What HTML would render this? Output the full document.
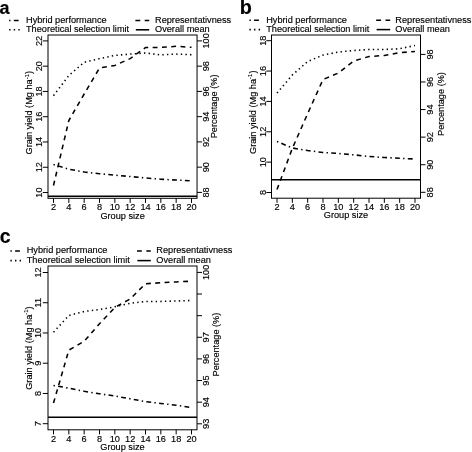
<!DOCTYPE html>
<html><head><meta charset="utf-8"><style>
html,body{margin:0;padding:0;background:#fff;}
svg{display:block;will-change:transform;}
text{stroke:#000;stroke-width:0.15px;}
</style></head><body>
<svg width="472" height="452" viewBox="0 0 472 452" font-family='"Liberation Sans", sans-serif' font-size="9.2" fill="#000">
<rect width="472" height="452" fill="#fff"/>
<text x="-0.5" y="14.2" font-size="18" font-weight="bold">a</text>
<path d="M9.1 20.5H19.2" stroke="#000" stroke-width="1.55" stroke-dasharray="1.4 3.3 4.8 3.3" fill="none"/>
<path d="M9.1 29.8H20.2" stroke="#000" stroke-width="1.55" stroke-dasharray="1.4 3.22" fill="none"/>
<path d="M135.4 20.5H149.2" stroke="#000" stroke-width="1.55" stroke-dasharray="4.85 4.45" fill="none"/>
<path d="M135.8 29.8H149.2" stroke="#000" stroke-width="1.55" fill="none"/>
<text x="26" y="23.2">Hybrid performance</text>
<text x="26" y="32.1">Theoretical selection limit</text>
<text x="155" y="23.2">Representativness</text>
<text x="155" y="32.1">Overall mean</text>
<rect x="48" y="35" width="149.05" height="163.3" fill="none" stroke="#000" stroke-width="1.0"/>
<text x="53.5" y="209.8" text-anchor="middle">2</text>
<text x="68.83" y="209.8" text-anchor="middle">4</text>
<text x="84.17" y="209.8" text-anchor="middle">6</text>
<text x="99.5" y="209.8" text-anchor="middle">8</text>
<text x="114.83" y="209.8" text-anchor="middle">10</text>
<text x="130.17" y="209.8" text-anchor="middle">12</text>
<text x="145.5" y="209.8" text-anchor="middle">14</text>
<text x="160.83" y="209.8" text-anchor="middle">16</text>
<text x="176.17" y="209.8" text-anchor="middle">18</text>
<text x="191.5" y="209.8" text-anchor="middle">20</text>
<text transform="translate(41.8 40.9) rotate(-90)" text-anchor="middle">22</text>
<text transform="translate(41.8 66.17) rotate(-90)" text-anchor="middle">20</text>
<text transform="translate(41.8 91.44) rotate(-90)" text-anchor="middle">18</text>
<text transform="translate(41.8 116.71) rotate(-90)" text-anchor="middle">16</text>
<text transform="translate(41.8 141.98) rotate(-90)" text-anchor="middle">14</text>
<text transform="translate(41.8 167.25) rotate(-90)" text-anchor="middle">12</text>
<text transform="translate(41.8 192.52) rotate(-90)" text-anchor="middle">10</text>
<text transform="translate(209.4 40.9) rotate(-90)" text-anchor="middle">100</text>
<text transform="translate(209.4 66.15) rotate(-90)" text-anchor="middle">98</text>
<text transform="translate(209.4 91.4) rotate(-90)" text-anchor="middle">96</text>
<text transform="translate(209.4 116.65) rotate(-90)" text-anchor="middle">94</text>
<text transform="translate(209.4 141.9) rotate(-90)" text-anchor="middle">92</text>
<text transform="translate(209.4 167.15) rotate(-90)" text-anchor="middle">90</text>
<text transform="translate(209.4 192.4) rotate(-90)" text-anchor="middle">88</text>
<path d="M53.5 198.3V202.9M68.83 198.3V202.9M84.17 198.3V202.9M99.5 198.3V202.9M114.83 198.3V202.9M130.17 198.3V202.9M145.5 198.3V202.9M160.83 198.3V202.9M176.17 198.3V202.9M191.5 198.3V202.9M42.8 40.9H48M42.8 66.17H48M42.8 91.44H48M42.8 116.71H48M42.8 141.98H48M42.8 167.25H48M42.8 192.52H48M197.05 40.9H202.05M197.05 66.15H202.05M197.05 91.4H202.05M197.05 116.65H202.05M197.05 141.9H202.05M197.05 167.15H202.05M197.05 192.4H202.05" stroke="#000" stroke-width="1.0" fill="none"/>
<text x="122.6" y="218.5" text-anchor="middle">Group size</text>
<text transform="translate(32.3 154.4) rotate(-90)">Grain yield (Mg ha<tspan font-size="6" dy="-3.6">-1</tspan><tspan dy="3.6">)</tspan></text>
<text transform="translate(216.5 138.3) rotate(-90)">Percentage (%)</text>
<path d="M48 196.3H197.05" stroke="#000" stroke-width="1.4"/>
<polyline points="53.5,95.7 68.83,75.5 84.17,62.3 99.5,58.6 114.83,55.4 130.17,54.1 145.5,53 160.83,54.9 176.17,54.1 191.5,54.7" fill="none" stroke="#000" stroke-width="1.55" stroke-dasharray="1.4 3.22"/>
<polyline points="53.5,185.5 68.83,120.5 84.17,94 99.5,68 114.83,65.4 130.17,58.6 145.5,47.5 160.83,47.4 176.17,46.3 191.5,47.3" fill="none" stroke="#000" stroke-width="1.55" stroke-dasharray="4.85 4.45"/>
<polyline points="53.5,164.5 68.83,169.2 84.17,172 99.5,173.7 114.83,175.2 130.17,176.5 145.5,178 160.83,179.2 176.17,180.1 191.5,180.8" fill="none" stroke="#000" stroke-width="1.55" stroke-dasharray="1.4 3.3 4.8 3.3"/>
<text x="239.8" y="13.9" font-size="19.8" font-weight="bold">b</text>
<path d="M249.4 20.3H259.4" stroke="#000" stroke-width="1.55" stroke-dasharray="1.4 3.3 4.8 3.3" fill="none"/>
<path d="M249.4 29.6H260.4" stroke="#000" stroke-width="1.55" stroke-dasharray="1.4 3.22" fill="none"/>
<path d="M376.2 20.3H390.2" stroke="#000" stroke-width="1.55" stroke-dasharray="4.85 4.45" fill="none"/>
<path d="M376.6 29.6H390.2" stroke="#000" stroke-width="1.55" fill="none"/>
<text x="266.2" y="22.9">Hybrid performance</text>
<text x="266.2" y="32">Theoretical selection limit</text>
<text x="395.3" y="22.9">Representativness</text>
<text x="395.3" y="32">Overall mean</text>
<rect x="271.5" y="35" width="149" height="163.2" fill="none" stroke="#000" stroke-width="1.0"/>
<text x="277" y="209.8" text-anchor="middle">2</text>
<text x="292.33" y="209.8" text-anchor="middle">4</text>
<text x="307.67" y="209.8" text-anchor="middle">6</text>
<text x="323" y="209.8" text-anchor="middle">8</text>
<text x="338.33" y="209.8" text-anchor="middle">10</text>
<text x="353.67" y="209.8" text-anchor="middle">12</text>
<text x="369" y="209.8" text-anchor="middle">14</text>
<text x="384.33" y="209.8" text-anchor="middle">16</text>
<text x="399.67" y="209.8" text-anchor="middle">18</text>
<text x="415" y="209.8" text-anchor="middle">20</text>
<text transform="translate(265.5 40.7) rotate(-90)" text-anchor="middle">18</text>
<text transform="translate(265.5 71.06) rotate(-90)" text-anchor="middle">16</text>
<text transform="translate(265.5 101.42) rotate(-90)" text-anchor="middle">14</text>
<text transform="translate(265.5 131.78) rotate(-90)" text-anchor="middle">12</text>
<text transform="translate(265.5 162.14) rotate(-90)" text-anchor="middle">10</text>
<text transform="translate(265.5 192.5) rotate(-90)" text-anchor="middle">8</text>
<text transform="translate(432.6 54.4) rotate(-90)" text-anchor="middle">98</text>
<text transform="translate(432.6 81.98) rotate(-90)" text-anchor="middle">96</text>
<text transform="translate(432.6 109.56) rotate(-90)" text-anchor="middle">94</text>
<text transform="translate(432.6 137.14) rotate(-90)" text-anchor="middle">92</text>
<text transform="translate(432.6 164.72) rotate(-90)" text-anchor="middle">90</text>
<text transform="translate(432.6 192.3) rotate(-90)" text-anchor="middle">88</text>
<path d="M277 198.2V202.8M292.33 198.2V202.8M307.67 198.2V202.8M323 198.2V202.8M338.33 198.2V202.8M353.67 198.2V202.8M369 198.2V202.8M384.33 198.2V202.8M399.67 198.2V202.8M415 198.2V202.8M266.3 40.7H271.5M266.3 71.06H271.5M266.3 101.42H271.5M266.3 131.78H271.5M266.3 162.14H271.5M266.3 192.5H271.5M420.5 54.4H425.5M420.5 81.98H425.5M420.5 109.56H425.5M420.5 137.14H425.5M420.5 164.72H425.5M420.5 192.3H425.5" stroke="#000" stroke-width="1.0" fill="none"/>
<text x="346" y="218.2" text-anchor="middle">Group size</text>
<text transform="translate(255.9 154) rotate(-90)">Grain yield (Mg ha<tspan font-size="6" dy="-3.6">-1</tspan><tspan dy="3.6">)</tspan></text>
<text transform="translate(443.9 135.9) rotate(-90)">Percentage (%)</text>
<path d="M271.5 179.7H420.5" stroke="#000" stroke-width="1.4"/>
<polyline points="277,93 292.33,75 307.67,61.5 323,55.1 338.33,52 353.67,50.5 369,49.5 384.33,49.5 399.67,48.75 415,45.5" fill="none" stroke="#000" stroke-width="1.55" stroke-dasharray="1.4 3.22"/>
<polyline points="277,189.5 292.33,148.4 307.67,113.6 323,79.5 338.33,73 353.67,61 369,56.5 384.33,55.5 399.67,52.7 415,51.5" fill="none" stroke="#000" stroke-width="1.55" stroke-dasharray="4.85 4.45"/>
<polyline points="277,141.5 292.33,148 307.67,150.5 323,152.5 338.33,153.5 353.67,154.8 369,156.5 384.33,157.5 399.67,158.3 415,159" fill="none" stroke="#000" stroke-width="1.55" stroke-dasharray="1.4 3.3 4.8 3.3"/>
<text x="-0.3" y="242.5" font-size="19.5" font-weight="bold">c</text>
<path d="M10.4 251H20.4" stroke="#000" stroke-width="1.55" stroke-dasharray="1.4 3.3 4.8 3.3" fill="none"/>
<path d="M10.4 260.6H21.4" stroke="#000" stroke-width="1.55" stroke-dasharray="1.4 3.22" fill="none"/>
<path d="M137 251H150.8" stroke="#000" stroke-width="1.55" stroke-dasharray="4.85 4.45" fill="none"/>
<path d="M137.4 260.6H150.8" stroke="#000" stroke-width="1.55" fill="none"/>
<text x="26.7" y="253.4">Hybrid performance</text>
<text x="26.7" y="263.1">Theoretical selection limit</text>
<text x="156.3" y="253.4">Representativness</text>
<text x="156.3" y="263.1">Overall mean</text>
<rect x="48" y="266" width="149" height="163.8" fill="none" stroke="#000" stroke-width="1.0"/>
<text x="53.5" y="441.6" text-anchor="middle">2</text>
<text x="68.83" y="441.6" text-anchor="middle">4</text>
<text x="84.17" y="441.6" text-anchor="middle">6</text>
<text x="99.5" y="441.6" text-anchor="middle">8</text>
<text x="114.83" y="441.6" text-anchor="middle">10</text>
<text x="130.17" y="441.6" text-anchor="middle">12</text>
<text x="145.5" y="441.6" text-anchor="middle">14</text>
<text x="160.83" y="441.6" text-anchor="middle">16</text>
<text x="176.17" y="441.6" text-anchor="middle">18</text>
<text x="191.5" y="441.6" text-anchor="middle">20</text>
<text transform="translate(41.3 272.5) rotate(-90)" text-anchor="middle">12</text>
<text transform="translate(41.3 302.74) rotate(-90)" text-anchor="middle">11</text>
<text transform="translate(41.3 332.98) rotate(-90)" text-anchor="middle">10</text>
<text transform="translate(41.3 363.22) rotate(-90)" text-anchor="middle">9</text>
<text transform="translate(41.3 393.46) rotate(-90)" text-anchor="middle">8</text>
<text transform="translate(41.3 423.7) rotate(-90)" text-anchor="middle">7</text>
<text transform="translate(209.2 272.4) rotate(-90)" text-anchor="middle">100</text>
<text transform="translate(209.2 337.29) rotate(-90)" text-anchor="middle">97</text>
<text transform="translate(209.2 358.92) rotate(-90)" text-anchor="middle">96</text>
<text transform="translate(209.2 380.55) rotate(-90)" text-anchor="middle">95</text>
<text transform="translate(209.2 402.18) rotate(-90)" text-anchor="middle">94</text>
<text transform="translate(209.2 423.81) rotate(-90)" text-anchor="middle">93</text>
<path d="M53.5 429.8V434.4M68.83 429.8V434.4M84.17 429.8V434.4M99.5 429.8V434.4M114.83 429.8V434.4M130.17 429.8V434.4M145.5 429.8V434.4M160.83 429.8V434.4M176.17 429.8V434.4M191.5 429.8V434.4M42.8 272.5H48M42.8 302.74H48M42.8 332.98H48M42.8 363.22H48M42.8 393.46H48M42.8 423.7H48M197 272.4H202M197 294.03H202M197 315.66H202M197 337.29H202M197 358.92H202M197 380.55H202M197 402.18H202M197 423.81H202" stroke="#000" stroke-width="1.0" fill="none"/>
<text x="122.5" y="450.2" text-anchor="middle">Group size</text>
<text transform="translate(31.5 389.8) rotate(-90)">Grain yield (Mg ha<tspan font-size="6" dy="-3.6">-1</tspan><tspan dy="3.6">)</tspan></text>
<text transform="translate(218.8 376.5) rotate(-90)">Percentage (%)</text>
<path d="M48 417.3H197" stroke="#000" stroke-width="1.4"/>
<polyline points="53.5,332.2 68.83,315.5 84.17,311.5 99.5,309.5 114.83,306.8 130.17,303.3 145.5,301.4 160.83,301.4 176.17,301 191.5,300.5" fill="none" stroke="#000" stroke-width="1.55" stroke-dasharray="1.4 3.22"/>
<polyline points="53.5,403 68.83,350.1 84.17,341.3 99.5,323.7 114.83,307.5 130.17,299 145.5,283.7 160.83,282.8 176.17,281.9 191.5,281.2" fill="none" stroke="#000" stroke-width="1.55" stroke-dasharray="4.85 4.45"/>
<polyline points="53.5,385.5 68.83,388.1 84.17,391.3 99.5,393.8 114.83,396 130.17,398.8 145.5,401.6 160.83,403.4 176.17,405.3 191.5,407.5" fill="none" stroke="#000" stroke-width="1.55" stroke-dasharray="1.4 3.3 4.8 3.3"/>
</svg>
</body></html>
